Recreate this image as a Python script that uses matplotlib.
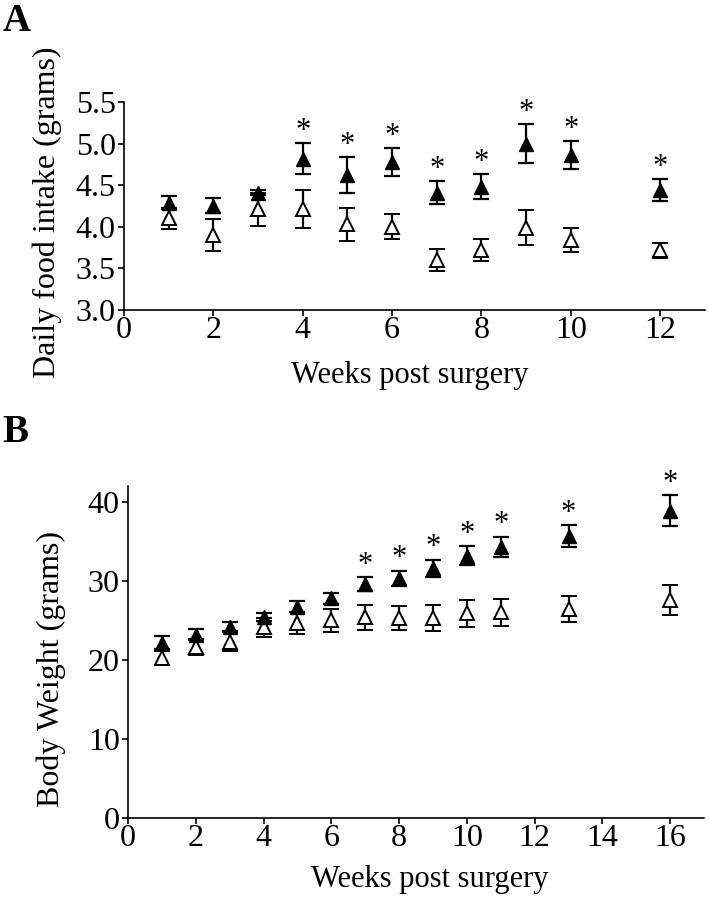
import matplotlib
matplotlib.use("Agg")
import matplotlib.pyplot as plt

plt.rcParams['font.family'] = ['Liberation Serif', 'DejaVu Serif']

# Panel A: daily food intake (grams)
weeks_a = [1, 2, 3, 4, 5, 6, 7, 8, 9, 10, 12]
filled_a = [4.29, 4.25, 4.41, 4.82, 4.62, 4.78, 4.41, 4.48, 5.00, 4.86, 4.44]
filled_a_err = [0.08, 0.09, 0.03, 0.19, 0.22, 0.17, 0.14, 0.15, 0.23, 0.17, 0.13]
open_a = [4.10, 3.90, 4.21, 4.21, 4.03, 4.00, 3.60, 3.72, 3.99, 3.84, 3.72]
open_a_err = [0.13, 0.19, 0.20, 0.23, 0.20, 0.15, 0.13, 0.13, 0.21, 0.14, 0.09]
signif_a = [4, 5, 6, 7, 8, 9, 10, 12]

# Panel B: body weight (grams)
weeks_b = [1, 2, 3, 4, 5, 6, 7, 8, 9, 10, 11, 13, 16]
filled_b = [22.2, 23.2, 24.2, 25.4, 26.7, 27.8, 29.6, 30.3, 31.6, 33.2, 34.3, 35.7, 38.9]
filled_b_err = [0.8, 0.7, 0.6, 0.5, 0.7, 0.7, 0.9, 1.0, 1.1, 1.25, 1.3, 1.4, 1.9]
open_b = [20.2, 21.6, 22.3, 24.1, 24.7, 25.0, 25.4, 25.3, 25.3, 25.9, 26.0, 26.4, 27.6]
open_b_err = [0.9, 1.0, 1.2, 1.2, 1.4, 1.5, 1.6, 1.5, 1.6, 1.7, 1.75, 1.65, 1.9]
signif_b = [7, 8, 9, 10, 11, 13, 16]


def draw_panel(ax, x, f, fe, o, oe, signif):
    # open first so the filled symbols sit on top
    ax.errorbar(x, o, yerr=oe, fmt='^', ms=10, mfc='white', mec='black', mew=1.4,
                ecolor='black', elinewidth=1.6, capsize=6, capthick=1.6, zorder=3)
    ax.errorbar(x, f, yerr=fe, fmt='^', ms=10, mfc='black', mec='black',
                ecolor='black', elinewidth=1.6, capsize=6, capthick=1.6, zorder=4)
    for xi, fi, ei in zip(x, f, fe):
        if xi in signif:
            ax.annotate('*', xy=(xi, fi + ei), xytext=(0, 3), textcoords='offset points',
                        ha='center', va='baseline', fontsize=22)
    for side in ('top', 'right'):
        ax.spines[side].set_visible(False)
    for side in ('left', 'bottom'):
        ax.spines[side].set_linewidth(1.2)
    ax.tick_params(direction='out', length=4, width=1.2, labelsize=23)
    ax.tick_params(axis='x', pad=0)
    ax.tick_params(axis='y', pad=2)


fig = plt.figure(figsize=(7.09, 9.0), dpi=100)

ax_a = fig.add_axes([0.175, 0.6556, 0.819, 0.2311])
draw_panel(ax_a, weeks_a, filled_a, filled_a_err, open_a, open_a_err, signif_a)
ax_a.set_xlim(0, 13)
ax_a.set_ylim(3.0, 5.5)
ax_a.set_xticks(range(0, 13, 2))
ax_a.set_yticks([3.0, 3.5, 4.0, 4.5, 5.0, 5.5])
ax_a.set_yticklabels(['3.0', '3.5', '4.0', '4.5', '5.0', '5.5'])
ax_a.set_xlabel('Weeks post surgery', fontsize=22)
ax_a.set_ylabel('Daily food intake (grams)', fontsize=23)
ax_a.xaxis.set_label_coords(0.492, -0.245)
ax_a.yaxis.set_label_coords(-0.107, 0.47)

ax_b = fig.add_axes([0.1806, 0.0911, 0.8124, 0.3689])
draw_panel(ax_b, weeks_b, filled_b, filled_b_err, open_b, open_b_err, signif_b)
ax_b.set_xlim(0, 17)
ax_b.set_ylim(0, 42)
ax_b.set_xticks(range(0, 17, 2))
ax_b.set_yticks([0, 10, 20, 30, 40])
ax_b.set_xlabel('Weeks post surgery', fontsize=22)
ax_b.set_ylabel('Body Weight (grams)', fontsize=23)
ax_b.xaxis.set_label_coords(0.524, -0.142)
ax_b.yaxis.set_label_coords(-0.108, 0.45)

fig.text(0.003, 0.997, 'A', fontsize=28, fontweight='bold', va='top', ha='left')
fig.text(0.003, 0.54, 'B', fontsize=28, fontweight='bold', va='top', ha='left')

fig.savefig('out.png', dpi=100)
